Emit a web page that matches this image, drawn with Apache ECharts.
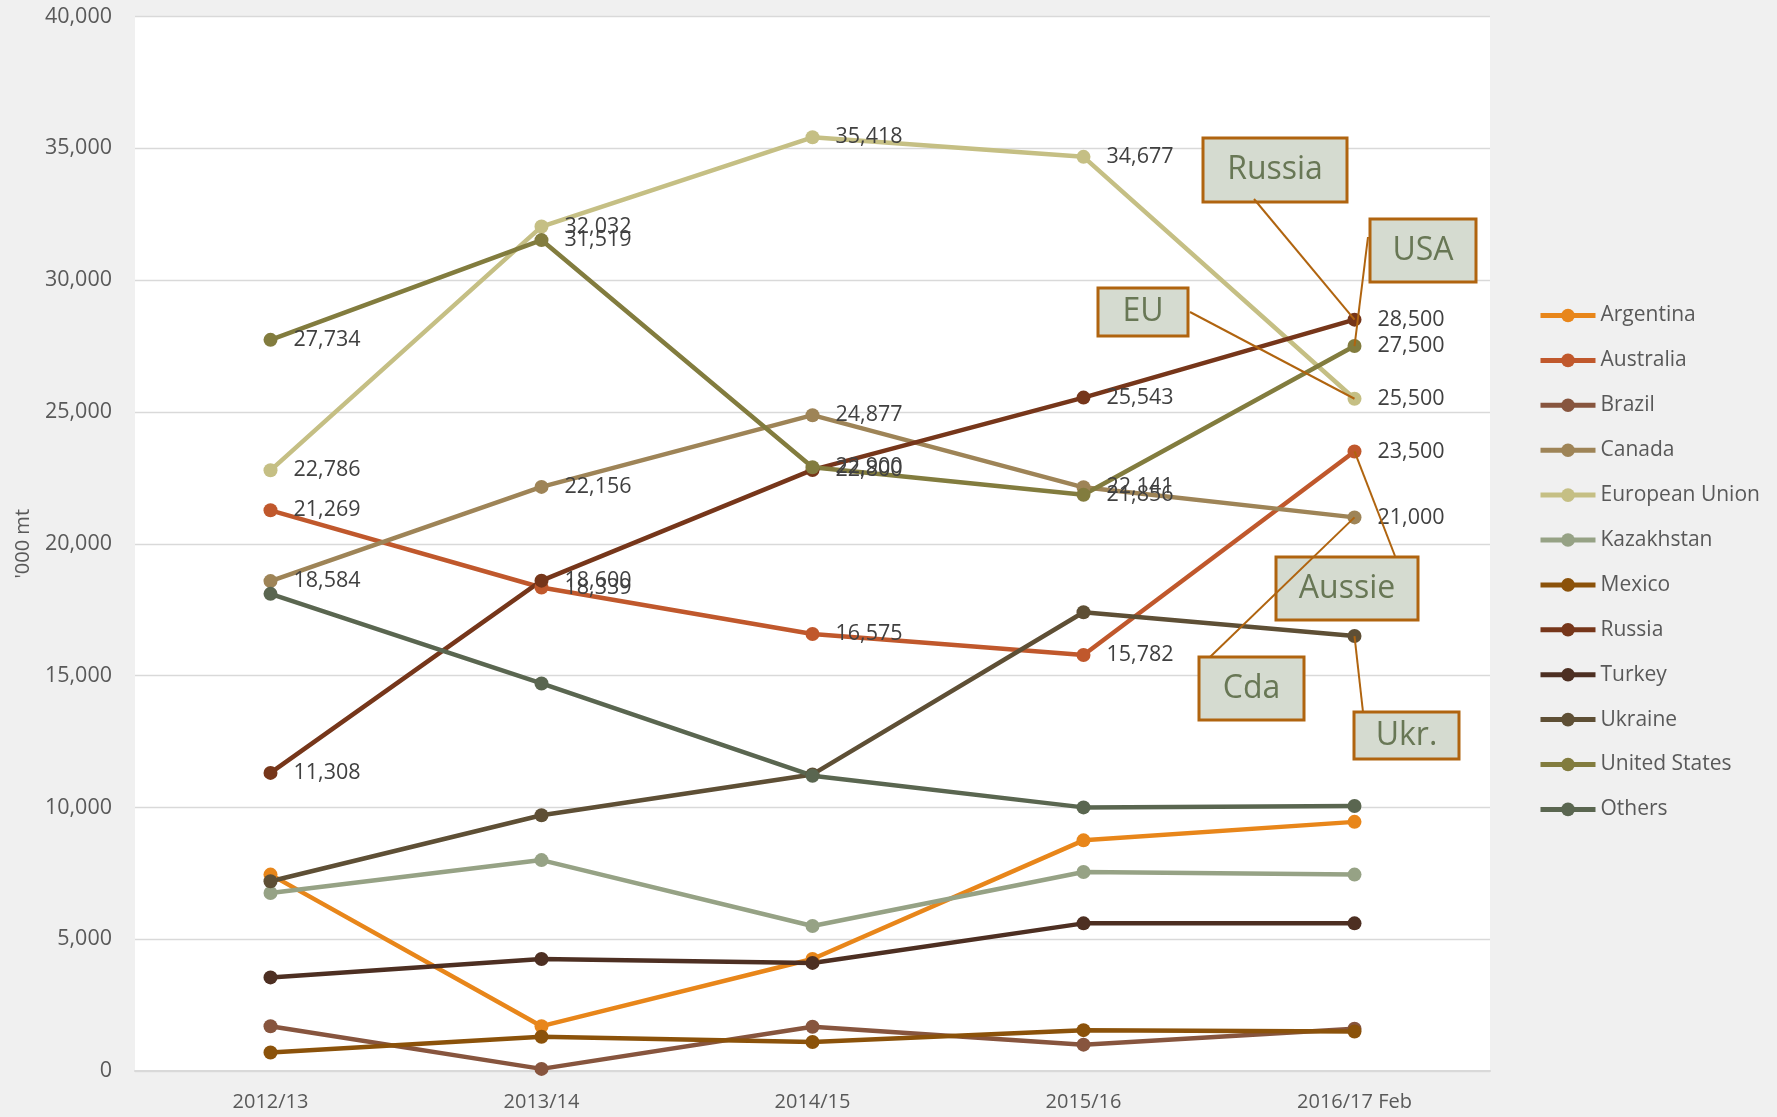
<!DOCTYPE html>
<html>
<head>
<meta charset="utf-8">
<script src="https://cdn.jsdelivr.net/npm/echarts@6/dist/echarts.min.js"></script>
<style>
  html, body { margin: 0; padding: 0; background: #f0f0f0; }
  #chart { width: 1777px; height: 1117px; }
</style>
</head>
<body>
<div id="chart"></div>
<script>
  const categories = ['2012/13', '2013/14', '2014/15', '2015/16', '2016/17 Feb']

  const argentina = [7450, 1700, 4250, 8750, 9450]
  const australia = [21269, 18339, 16575, 15782, 23500]
  const brazil = [1700, 80, 1680, 1000, 1600]
  const canada = [18584, 22156, 24877, 22141, 21000]
  const europeanUnion = [22786, 32032, 35418, 34677, 25500]
  const kazakhstan = [6750, 8000, 5500, 7550, 7450]
  const mexico = [700, 1300, 1100, 1550, 1500]
  const russia = [11308, 18600, 22800, 25543, 28500]
  const turkey = [3550, 4250, 4100, 5600, 5600]
  const ukraine = [7200, 9700, 11250, 17400, 16500]
  const unitedStates = [27734, 31519, 22900, 21856, 27500]
  const others = [18100, 14700, 11200, 10000, 10050]

  const font = '"Open Sans", "Noto Sans", sans-serif'

  // name, data, colour, show value labels
  const seriesList = [
    ['Argentina', argentina, '#e8861a', false],
    ['Australia', australia, '#c0582c', true],
    ['Brazil', brazil, '#87553e', false],
    ['Canada', canada, '#9e8457', true],
    ['European Union', europeanUnion, '#c5bf84', true],
    ['Kazakhstan', kazakhstan, '#96a285', false],
    ['Mexico', mexico, '#8b520a', false],
    ['Russia', russia, '#76361a', true],
    ['Turkey', turkey, '#4d2f22', false],
    ['Ukraine', ukraine, '#5e4f35', false],
    ['United States', unitedStates, '#827c3e', true],
    ['Others', others, '#5a6650', false]
  ]

  // callout boxes: text, series it points at, box [x, y, w, h], leader start
  const callouts = [
    { text: 'Cda', series: 'Canada', box: [1199, 657, 105, 63], from: [1210, 657] },
    { text: 'Russia', series: 'Russia', box: [1203, 138, 144, 64], from: [1254, 199] },
    { text: 'USA', series: 'United States', box: [1370, 219, 106, 63], from: [1368, 237] },
    { text: 'EU', series: 'European Union', box: [1098, 288, 90, 48], from: [1190, 312] },
    { text: 'Aussie', series: 'Australia', box: [1276, 557, 142, 63], from: [1395, 556] },
    { text: 'Ukr.', series: 'Ukraine', box: [1354, 712, 105, 47], from: [1363, 712] }
  ]

  const chart = echarts.init(document.getElementById('chart'))

  chart.setOption({
    backgroundColor: '#f0f0f0',
    animation: false,
    textStyle: { fontFamily: font },
    grid: {
      left: 135,
      right: 287,
      top: 16.5,
      bottom: 46,
      outerBoundsMode: 'none',
      containLabel: false,
      show: true,
      backgroundColor: '#ffffff',
      borderWidth: 0
    },
    legend: {
      orient: 'vertical',
      left: 1533,
      top: 300,
      itemWidth: 55,
      itemHeight: 17,
      itemGap: 23.9,
      lineStyle: { width: 5 },
      textStyle: { fontSize: 21, color: '#595959', fontFamily: font },
      data: seriesList.map(s => s[0])
    },
    xAxis: {
      type: 'category',
      data: categories,
      boundaryGap: true,
      axisLine: { lineStyle: { color: '#d9d9d9', width: 2 } },
      axisTick: { show: false },
      axisLabel: { fontSize: 20, color: '#595959', margin: 21, fontFamily: font }
    },
    yAxis: {
      type: 'value',
      min: 0,
      max: 40000,
      interval: 5000,
      name: "'000 mt",
      nameLocation: 'middle',
      nameGap: 102,
      nameTextStyle: { fontSize: 20, color: '#595959', fontFamily: font },
      axisLine: { show: false },
      axisTick: { show: false },
      splitLine: { lineStyle: { color: '#d9d9d9', width: 1.3 } },
      axisLabel: {
        fontSize: 21.5,
        color: '#595959',
        margin: 23,
        fontFamily: font,
        formatter: v => v.toLocaleString('en-US')
      }
    },
    series: seriesList.map(([name, data, color, labelled]) => ({
      name,
      type: 'line',
      data,
      symbol: 'circle',
      symbolSize: 14,
      color,
      lineStyle: { width: 4.5, color },
      itemStyle: { color },
      emphasis: { disabled: true },
      label: {
        show: labelled,
        position: 'right',
        distance: 16,
        fontSize: 21.5,
        color: '#404040',
        fontFamily: font,
        formatter: p => p.value.toLocaleString('en-US')
      }
    }))
  })

  // leader lines end on the last point of each series
  const last = categories.length - 1
  const graphic = []
  callouts.forEach(c => {
    const s = seriesList.find(x => x[0] === c.series)
    const pt = chart.convertToPixel({ seriesName: c.series }, [last, s[1][last]])
    graphic.push({
      type: 'line',
      shape: { x1: c.from[0], y1: c.from[1], x2: pt[0], y2: pt[1] },
      style: { stroke: '#b0640f', lineWidth: 2 }
    })
    graphic.push({
      type: 'group',
      children: [
        {
          type: 'rect',
          shape: { x: c.box[0], y: c.box[1], width: c.box[2], height: c.box[3] },
          style: { fill: '#d5dbd0', stroke: '#b0640f', lineWidth: 3 }
        },
        {
          type: 'text',
          x: c.box[0] + c.box[2] / 2,
          y: c.box[1] + c.box[3] / 2,
          style: {
            text: c.text,
            fontSize: 32,
            fontFamily: font,
            fill: '#687755',
            align: 'center',
            verticalAlign: 'middle'
          }
        }
      ]
    })
  })
  // Cda leader sits behind the Aussie box, so keep drawing order
  graphic.forEach((g, i) => { g.z = 100 + i })
  chart.setOption({ graphic })
</script>
</body>
</html>
